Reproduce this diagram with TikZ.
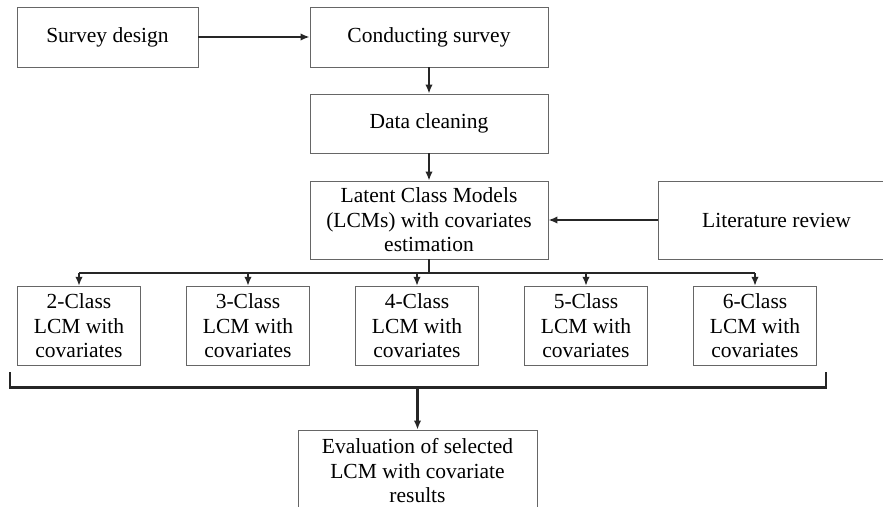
\documentclass[tikz,border=0pt]{standalone}
\usepackage{fontspec}
\setmainfont{Liberation Serif}
\usetikzlibrary{arrows.meta}

\begin{document}
\begin{tikzpicture}[x=1pt, y=-1pt, >={Latex[length=9pt,width=7.5pt]},
  box/.style={draw=black!60, line width=0.8pt, align=center, inner sep=2pt,
    font=\fontsize{21.5}{24.5}\selectfont},
  link/.style={line width=2.6pt, draw=black!85}]
  \clip (0,0) rectangle (883,506);
  \node[box, minimum width=181pt, minimum height=60pt] (survey) at (107.5,37) {Survey design};
  \node[box, minimum width=238pt, minimum height=60pt] (conduct) at (429,37) {Conducting survey};
  \node[box, minimum width=238pt, minimum height=59pt] (clean) at (429,123.5) {Data cleaning};
  \node[box, minimum width=238pt, minimum height=78pt] (lcm) at (429,220) {Latent Class Models\\(LCMs) with covariates\\estimation};
  \node[box, minimum width=237pt, minimum height=78pt] (review) at (776.5,220) {Literature review};
  \node[box, minimum width=239pt, minimum height=82pt] (evaluate) at (417.5,471) {Evaluation of selected\\LCM with covariate\\results};
  \draw[link,->] (survey) -- (conduct);
  \draw[link,->] (conduct) -- (clean);
  \draw[link,->] (clean) -- (lcm);
  \draw[link,->] (review) -- (lcm);
  % five models with covariates
  \coordinate (bus) at (0,273);
  \foreach \k/\xc in {2/79, 3/248, 4/417, 5/586, 6/755}{
    \node[box, minimum width=123pt, minimum height=79pt] (class\k) at (\xc,325.75) {\k-Class\\LCM with\\covariates};
    \draw[link,->] (class\k.north |- bus) -- (class\k.north);
  }
  \draw[link] (lcm.south) -- (lcm.south |- bus);
  \draw[link] (class2.north |- bus) -- (class6.north |- bus);
  % bracket over all the models
  \coordinate (bracel) at (10,372);
  \coordinate (bracer) at (826,372);
  \coordinate (bracey) at (0,387.5);
  \draw[link] (bracel) -- (bracel |- bracey) -- (bracer |- bracey) -- (bracer);
  \draw[link,->] (evaluate.north |- bracey) -- (evaluate.north);
\end{tikzpicture}
\end{document}
